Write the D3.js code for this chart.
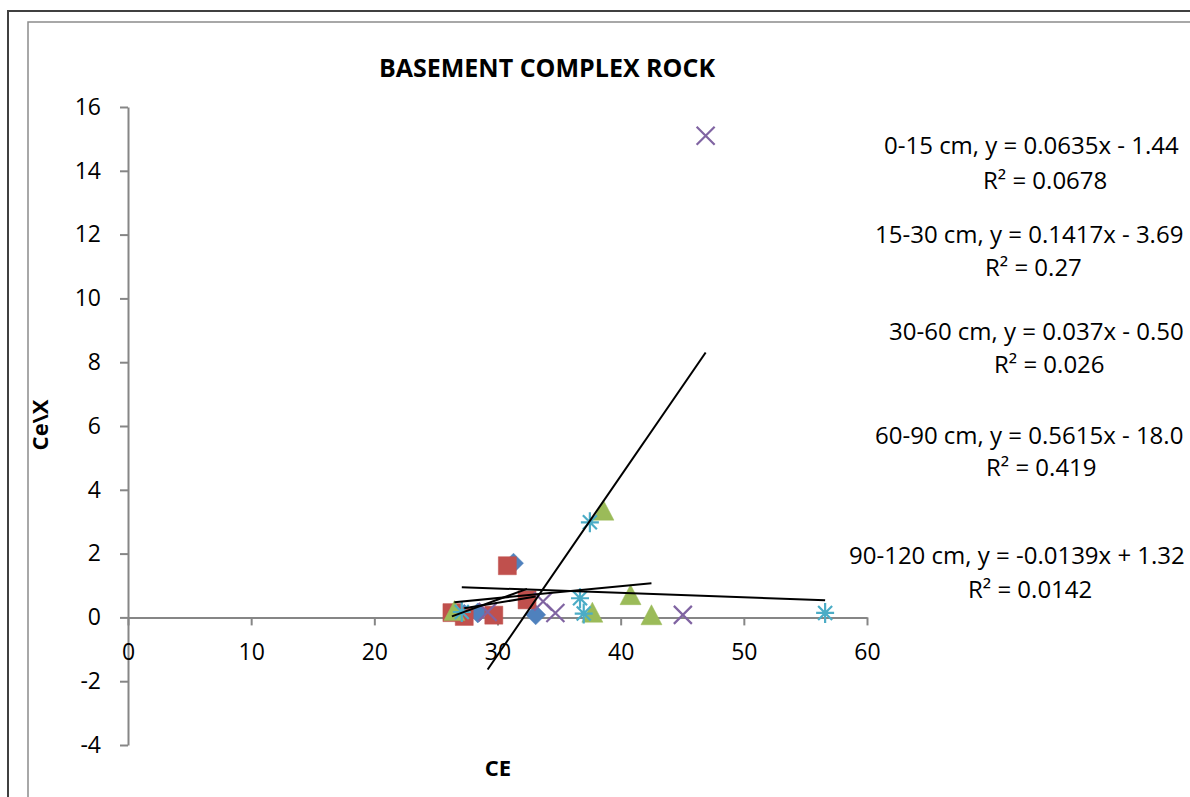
<!DOCTYPE html>
<html>
<head>
<meta charset="utf-8">
<script src="https://cdn.jsdelivr.net/npm/d3@7"></script>
<style>
  body { margin: 0; background: #fff; }
  svg { display: block; font-family: "Open Sans", "Noto Sans", sans-serif; }
</style>
</head>
<body>
<svg id="chart" width="1190" height="797"></svg>
<script>
// series points [CE, Ce\X]
const depth0_15 = [[27.3, 0.10], [28.4, 0.14], [31.3, 1.70], [33.1, 0.08]];
const depth15_30 = [[26.3, 0.15], [27.3, 0.03], [29.7, 0.07], [30.8, 1.62], [32.4, 0.55]];
const depth30_60 = [[26.5, 0.15], [37.7, 0.10], [38.6, 3.30], [40.8, 0.65], [42.5, 0.02]];
const depth60_90 = [[29.2, 0.17], [33.7, 0.50], [34.7, 0.14], [45.05, 0.08], [46.9, 15.1]];
const depth90_120 = [[27.1, 0.17], [36.7, 0.60], [37.0, 0.12], [37.5, 2.98], [56.6, 0.14]];

const seriesNames = ["0-15 cm", "15-30 cm", "30-60 cm", "60-90 cm", "90-120 cm"];
const slopes = [0.0635, 0.1417, 0.037, 0.5615, -0.0139];
const intercepts = [-1.449, -3.695, -0.504, -18.03, 1.325];
// equation text as far as the picture shows it (the right edge cuts the rest)
const eqTexts = ["y = 0.0635x - 1.44", "y = 0.1417x - 3.69", "y = 0.037x - 0.50",
                 "y = 0.5615x - 18.0", "y = -0.0139x + 1.32"];
const r2Texts = ["R² = 0.0678", "R² = 0.27", "R² = 0.026", "R² = 0.419", "R² = 0.0142"];

const xTicks = [0, 10, 20, 30, 40, 50, 60];
const yTicks = [-4, -2, 0, 2, 4, 6, 8, 10, 12, 14, 16];

const allSeries = [depth0_15, depth15_30, depth30_60, depth60_90, depth90_120];
const colors = ["#4F81BD", "#C0504D", "#9BBB59", "#8064A2", "#4BACC6"];
const shapes = ["diamond", "square", "triangle", "cross", "star"];

// label placement (line 1 left edge / line 2 left edge, centre y)
const labelPos = [
  { x1: 884, y1: 146, x2: 983, y2: 181 },
  { x1: 875, y1: 235, x2: 985, y2: 268 },
  { x1: 889, y1: 332, x2: 994, y2: 365 },
  { x1: 875, y1: 436, x2: 986, y2: 468 },
  { x1: 849, y1: 556, x2: 968, y2: 590 }
];

const svg = d3.select("#chart");

// outer and inner frames
svg.append("rect").attr("x", 8).attr("y", 11).attr("width", 1300).attr("height", 900)
  .attr("fill", "none").attr("stroke", "#404040").attr("stroke-width", 2);
svg.append("rect").attr("x", 28).attr("y", 22).attr("width", 1300).attr("height", 900)
  .attr("fill", "none").attr("stroke", "#8c8c8c").attr("stroke-width", 1.5);

const x = d3.scaleLinear().domain([0, 60]).range([128, 867]);
const y = d3.scaleLinear().domain([-4, 16]).range([745, 107]);

// axes
const yAxis = svg.append("g")
  .attr("transform", `translate(${x(0)},0)`)
  .call(d3.axisLeft(y).tickValues(yTicks).tickSize(8).tickSizeOuter(0).tickPadding(19)
    .tickFormat(d => String(d)));

const xAxis = svg.append("g")
  .attr("transform", `translate(0,${y(0)})`)
  .call(d3.axisBottom(x).tickValues(xTicks).tickSize(8).tickSizeOuter(0).tickPadding(18)
    .tickFormat(d => String(d)));

[xAxis, yAxis].forEach(g => {
  g.selectAll("path, line").attr("stroke", "#868686").attr("stroke-width", 2);
  g.selectAll("text").attr("font-size", 23).attr("fill", "#000")
    .attr("font-family", "'Open Sans', sans-serif");
});

// markers
const markerPath = (shape) => {
  if (shape === "diamond") return "M0,-10L10,0L0,10L-10,0Z";
  if (shape === "square") return "M-9,-9H9V9H-9Z";
  if (shape === "triangle") return "M0,-12L10.5,8L-10.5,8Z";
  if (shape === "cross") return "M-9,-9L9,9M-9,9L9,-9";
  return "M-9,0H9M0,-10V10M-7,-7L7,7M-7,7L7,-7";
};

allSeries.forEach((pts, i) => {
  const line = shapes[i] === "cross" || shapes[i] === "star";
  svg.append("g").selectAll("path")
    .data(pts)
    .join("path")
    .attr("transform", d => `translate(${x(d[0])},${y(d[1])})`)
    .attr("d", markerPath(shapes[i]))
    .attr("fill", line ? "none" : colors[i])
    .attr("stroke", colors[i])
    .attr("stroke-width", line ? 2.2 : 0.5);
});

// linear trendlines over each series range
allSeries.forEach((pts, i) => {
  const [x0, x1] = d3.extent(pts, d => d[0]);
  svg.append("line")
    .attr("x1", x(x0)).attr("y1", y(slopes[i] * x0 + intercepts[i]))
    .attr("x2", x(x1)).attr("y2", y(slopes[i] * x1 + intercepts[i]))
    .attr("stroke", "#000").attr("stroke-width", 2);
});

// trendline labels
labelPos.forEach((p, i) => {
  svg.append("text").attr("x", p.x1).attr("y", p.y1).attr("dy", "0.35em")
    .attr("font-size", 24).text(`${seriesNames[i]}, ${eqTexts[i]}`);
  svg.append("text").attr("x", p.x2).attr("y", p.y2).attr("dy", "0.35em")
    .attr("font-size", 24).text(r2Texts[i]);
});

// titles
svg.append("text").attr("x", 547).attr("y", 68).attr("dy", "0.35em")
  .attr("text-anchor", "middle").attr("font-size", 25).attr("font-weight", "bold")
  .text("BASEMENT COMPLEX ROCK");
svg.append("text").attr("x", 498).attr("y", 768).attr("dy", "0.35em")
  .attr("text-anchor", "middle").attr("font-size", 22).attr("font-weight", "bold")
  .text("CE");
svg.append("text").attr("transform", "translate(40,425) rotate(-90)").attr("dy", "0.35em")
  .attr("text-anchor", "middle").attr("font-size", 22).attr("font-weight", "bold")
  .text("Ce\\X");
</script>
</body>
</html>
